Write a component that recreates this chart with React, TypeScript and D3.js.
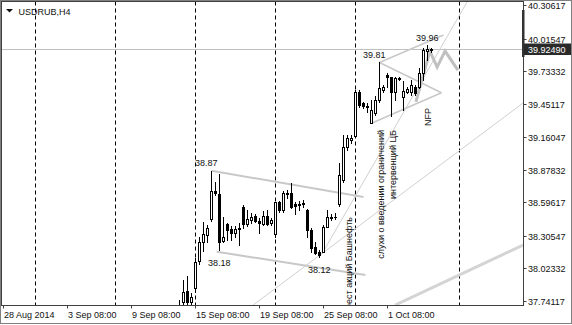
import React from "react";
import * as d3 from "d3";

const W = 572;
const H = 325;

// Right price axis
const priceTicks = [40.30617, 40.01547, 39.73332, 39.45117, 39.16047, 38.87832, 38.59617, 38.30547, 38.02332, 37.74117];
const currentPrice = 39.9249;
const currentPriceLabel = "39.92490";

// Time axis (bar index, 4 H4 bars per trading day)
const timeTickBars = [0, 16, 32, 48, 64, 80, 96];
const timeTickLabels = ["28 Aug 2014", "3 Sep 08:00", "9 Sep 08:00", "15 Sep 08:00", "19 Sep 08:00", "25 Sep 08:00", "1 Oct 08:00"];
const separatorBars = [8, 28, 48, 68, 88, 114];

// Candles, starting at bar 44
const firstBar = 44;
const opens = [37.617, 37.73, 37.822, 37.733, 37.852, 38.086, 38.254, 38.312, 38.448, 38.694, 38.665, 38.262, 38.405, 38.361, 38.327, 38.37, 38.558, 38.405, 38.442, 38.477, 38.436, 38.407, 38.477, 38.414, 38.321, 38.596, 38.529, 38.679, 38.679, 38.585, 38.581, 38.587, 38.529, 38.355, 38.205, 38.167, 38.167, 38.386, 38.466, 38.471, 38.581, 38.789, 39.079, 39.137, 39.171, 39.556, 39.455, 39.429, 39.287, 39.368, 39.484, 39.571, 39.701, 39.681, 39.556, 39.672, 39.513, 39.556, 39.556, 39.599, 39.599, 39.716, 39.909, 39.918];
const highs = [37.748, 37.921, 37.956, 37.808, 38.112, 38.295, 38.425, 38.399, 38.87, 38.775, 38.842, 38.471, 38.419, 38.39, 38.39, 38.414, 38.572, 38.529, 38.5, 38.494, 38.457, 38.52, 38.529, 38.46, 38.601, 38.61, 38.697, 38.703, 38.761, 38.601, 38.607, 38.616, 38.535, 38.37, 38.254, 38.182, 38.399, 38.529, 38.494, 38.503, 38.937, 39.18, 39.18, 39.18, 39.571, 39.571, 39.469, 39.455, 39.484, 39.519, 39.81, 39.614, 39.716, 39.688, 39.688, 39.686, 39.653, 39.599, 39.658, 39.614, 39.759, 39.933, 39.96, 39.933];
const lows = [37.574, 37.661, 37.678, 37.696, 37.817, 38.06, 38.173, 38.254, 38.438, 38.659, 38.18, 38.251, 38.269, 38.269, 38.297, 38.225, 38.37, 38.39, 38.414, 38.425, 38.329, 38.399, 38.399, 38.399, 38.297, 38.514, 38.514, 38.631, 38.544, 38.494, 38.529, 38.555, 38.297, 38.167, 38.147, 38.12, 38.164, 38.384, 38.442, 38.451, 38.564, 38.775, 39.05, 39.111, 39.16, 39.426, 39.412, 39.382, 39.282, 39.354, 39.469, 39.553, 39.599, 39.345, 39.484, 39.658, 39.397, 39.542, 39.527, 39.527, 39.585, 39.658, 39.831, 39.903];
const closes = [37.678, 37.817, 37.73, 37.776, 38.078, 38.251, 38.318, 38.37, 38.694, 38.674, 38.251, 38.292, 38.355, 38.329, 38.366, 38.366, 38.405, 38.448, 38.466, 38.436, 38.414, 38.477, 38.407, 38.442, 38.596, 38.525, 38.679, 38.671, 38.559, 38.564, 38.576, 38.583, 38.355, 38.196, 38.158, 38.138, 38.386, 38.471, 38.461, 38.467, 38.833, 39.079, 39.151, 39.151, 39.556, 39.44, 39.432, 39.425, 39.397, 39.484, 39.585, 39.599, 39.681, 39.556, 39.672, 39.668, 39.566, 39.577, 39.614, 39.542, 39.716, 39.918, 39.924, 39.925];

// Drawn objects: [bar, price] pairs
const channelUpper: [number, number][] = [[52, 38.87], [90, 38.642]];
const channelLower: [number, number][] = [[53.3, 38.167], [90.5, 37.965]];
const triUpperA: [number, number][] = [[94, 39.81], [110, 40.048]];
const triUpperB: [number, number][] = [[94, 39.81], [109.5, 39.547]];
const triLower: [number, number][] = [[92, 39.282], [109.5, 39.547]];
const zigzag: [number, number][] = [[103.1, 39.467], [106.6, 39.909], [108.4, 39.77], [110.4, 39.909], [113.6, 39.744]];
const thickLong: [number, number][] = [[97.9, 37.704], [129.9, 38.225]];
const thinLine1: [number, number][] = [[62.4, 37.704], [129.9, 39.458]];
const thinLine2: [number, number][] = [[79.6, 38.147], [115.9, 40.335]];

// Price marks
const markLabels = ["38.87", "38.18", "38.12", "39.81", "39.96"];
const markBars = [47.9, 51.1, 76.1, 89.9, 103.1];
const markPrices = [38.87, 38.18, 38.12, 39.81, 39.96];

const FONT = "'Liberation Sans', Arial, sans-serif";
const TXT = "#111";

export default function App() {
  const plotL = 1.5, plotT = 1.5, plotR = 523.5, plotB = 305.5;
  const x = d3.scaleLinear().domain([0, 130]).range([3.5, 3.5 + 4 * 130]);
  const y = d3.scaleLinear().domain([37.74117, 40.30617]).range([300.8, 5.3]);
  const line = d3.line<[number, number]>().x((d) => x(d[0])).y((d) => y(d[1]));

  const candles = opens.map((o, i) => {
    const bar = firstBar + i;
    const cx = x(bar);
    const c = closes[i];
    const yh = Math.round(y(highs[i]));
    const yl = Math.round(y(lows[i]));
    const yo = Math.round(y(o));
    const yc = Math.round(y(c));
    const bull = c >= o;
    const top = Math.min(yo, yc);
    const bot = Math.max(yo, yc);
    return (
      <g key={bar}>
        <line x1={cx} x2={cx} y1={yh} y2={yl + 1} stroke="#000" strokeWidth={1} />
        {bot - top < 1 ? (
          <line x1={cx - 1.5} x2={cx + 1.5} y1={top + 0.5} y2={top + 0.5} stroke="#000" strokeWidth={1} />
        ) : bull ? (
          <rect x={cx - 1} y={top + 0.5} width={2} height={bot - top} fill="#fff" stroke="#000" strokeWidth={1} />
        ) : (
          <rect x={cx - 1.5} y={top} width={3} height={bot - top + 1} fill="#000" />
        )}
      </g>
    );
  });

  const grayLine = (pts: [number, number][], w: number, col: string, key: string) => (
    <path key={key} d={line(pts) || ""} fill="none" stroke={col} strokeWidth={w} strokeLinejoin="miter" />
  );

  const cy = Math.round(y(currentPrice));

  return (
    <svg width={W} height={H} style={{ display: "block", position: "absolute", left: 0, top: 0 }} fontFamily={FONT}>
      <defs>
        <clipPath id="plot">
          <rect x={plotL + 0.5} y={plotT + 0.5} width={plotR - plotL - 1} height={plotB - plotT - 1} />
        </clipPath>
      </defs>
      <rect x={0} y={0} width={W} height={H} fill="#fff" />
      <g clipPath="url(#plot)">
        <line x1={plotL} x2={plotR} y1={cy + 0.5} y2={cy + 0.5} stroke="#c0c0c0" strokeWidth={1} />
        {separatorBars.map((b) => (
          <line key={b} x1={x(b)} x2={x(b)} y1={plotT} y2={plotB} stroke="#000" strokeWidth={1} strokeDasharray="4,3" />
        ))}
        {grayLine(thinLine1, 1, "#d0d0d0", "t1")}
        {grayLine(thinLine2, 1, "#d0d0d0", "t2")}
        {grayLine(thickLong, 3, "#d4d4d4", "tl")}
        {grayLine(channelUpper, 2, "#c8c8c8", "cu")}
        {grayLine(channelLower, 2, "#c8c8c8", "cl")}
        {grayLine(triUpperA, 1.5, "#c8c8c8", "ta")}
        {grayLine(triUpperB, 1.5, "#c8c8c8", "tb")}
        {grayLine(triLower, 1.5, "#c8c8c8", "tc")}
        {grayLine(zigzag, 3, "#c0c0c0", "zz")}
        {candles}
        <text transform="translate(351.5,217) rotate(-90)" textAnchor="end" fontSize={9} fill={TXT}>Арест акций Башнефть</text>
        <text transform="translate(384,130) rotate(-90)" textAnchor="end" fontSize={9} fill={TXT}>слухи о введении ограничений</text>
        <text transform="translate(395.5,130) rotate(-90)" textAnchor="end" fontSize={9} fill={TXT}>интервенций ЦБ</text>
        <text transform="translate(430.5,108) rotate(-90)" textAnchor="end" fontSize={9} fill={TXT}>NFP</text>
        {markLabels.map((t, i) => (
          <text key={t} x={x(markBars[i])} y={y(markPrices[i]) + (i === 1 || i === 2 ? 16 : -4.5)} fontSize={9} fill={TXT}>{t}</text>
        ))}
      </g>
      <path d="M6,9 L13,9 L9.5,12.5 Z" fill={TXT} />
      <text x={18.5} y={14.5} fontSize={9} fill={TXT}>USDRUB,H4</text>

      <rect x={0.5} y={0.5} width={W - 1} height={H - 2} fill="none" stroke="#808080" strokeWidth={1} />
      <rect x={plotL} y={plotT} width={plotR - plotL} height={plotB - plotT} fill="none" stroke="#404040" strokeWidth={1} />

      {priceTicks.map((p) => {
        const yy = Math.round(y(p)) + 0.5;
        return (
          <g key={p}>
            <line x1={plotR} x2={plotR + 3} y1={yy} y2={yy} stroke="#404040" />
            <text x={528} y={yy + 3.2} fontSize={9} fill={TXT}>{p.toFixed(5)}</text>
          </g>
        );
      })}
      <rect x={522} y={10} width={2.5} height={47} fill="#333" />
      <rect x={524} y={cy - 5.5} width={47} height={11.5} fill="#2a2a2a" />
      <text x={528} y={cy + 3.7} fontSize={9} fill="#fff">{currentPriceLabel}</text>

      {timeTickBars.map((b, i) => {
        const xx = Math.round(x(b)) - 0.5;
        return (
          <g key={b}>
            <line x1={xx} x2={xx} y1={plotB} y2={plotB + 3} stroke="#404040" />
            <text x={xx + 0.5} y={318} fontSize={9} fill={TXT}>{timeTickLabels[i]}</text>
          </g>
        );
      })}
    </svg>
  );
}
